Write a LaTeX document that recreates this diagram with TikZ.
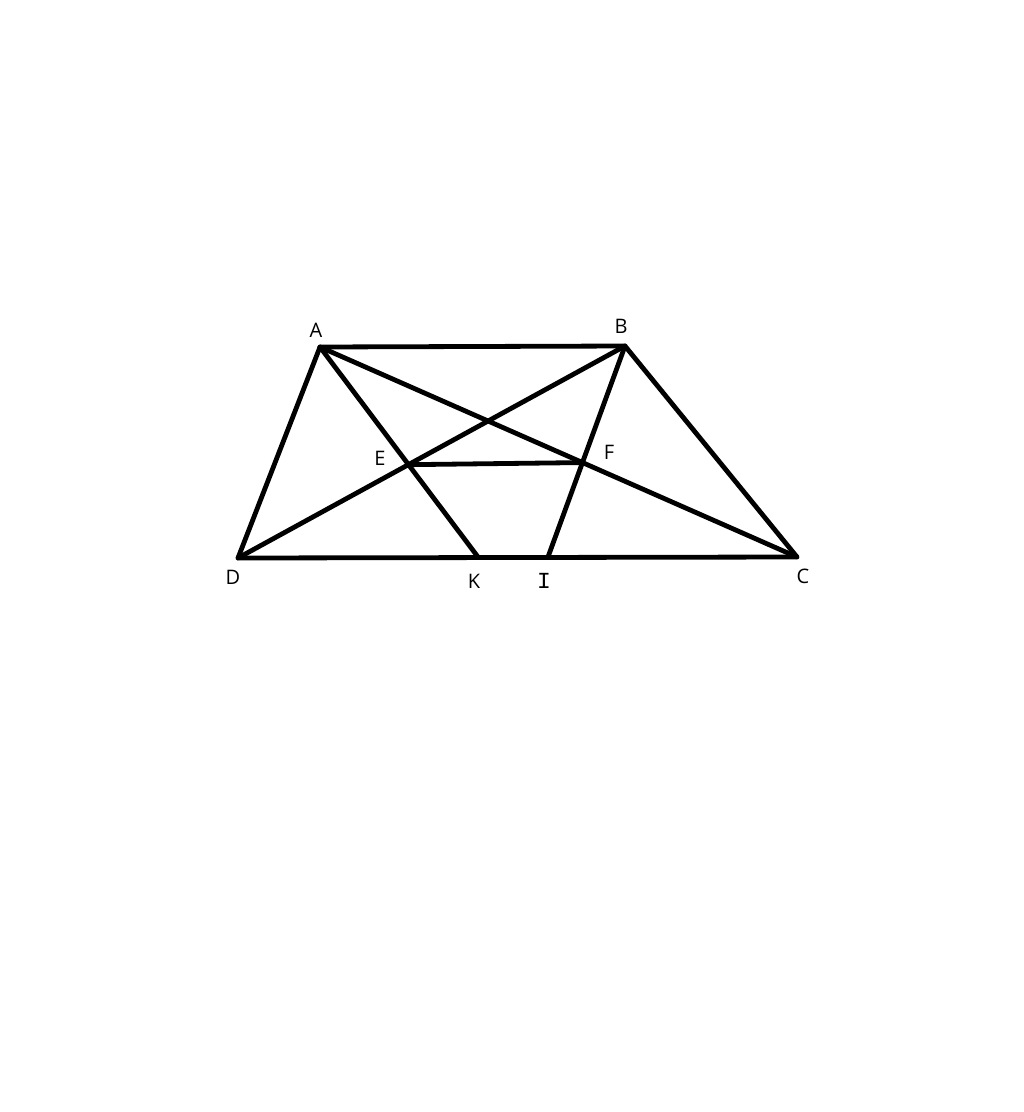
\documentclass[tikz,border=0pt]{standalone}
\usepackage{fontspec}
\setmainfont{Open Sans}
\newfontfamily\serifI{Liberation Mono}
\usetikzlibrary{positioning}

\begin{document}
\begin{tikzpicture}[x=1pt,y=-1pt,
		pt/.style={coordinate},
		edge/.style={line width=4.8pt,line cap=round,line join=round},
		lbl/.style={inner sep=0pt,font=\fontsize{20}{24}\selectfont}]
			\useasboundingbox[fill=white] (0,0) rectangle (1024,1112);

			\node[pt]	(A)	at (320,347)	{};
			\node[pt]	(B)	at (625,346)	{};
			\node[pt]	(C)	at (797,557)	{};
			\node[pt]	(D)	at (238,558)	{};
			\node[pt]	(K)	at (478,557)	{};
			\node[pt]	(I)	at (548,557)	{};
			\coordinate	(E)	at (intersection of A--K and B--D);
			\coordinate	(F)	at (intersection of A--C and B--I);

			\draw[edge] (A) -- (B) -- (C) -- (D) -- cycle;
			\draw[edge] (A) -- (C);
			\draw[edge] (B) -- (D);
			\draw[edge] (A) -- (K);
			\draw[edge] (B) -- (I);
			\draw[edge] (E) -- (F);

			\node[lbl]	(lA)	at (316,330)	{A};
			\node[lbl]	(lB)	at (621,326)	{B};
			\node[lbl]	(lC)	at (803,576)	{C};
			\node[lbl]	(lD)	at (233,577)	{D};
			\node[lbl]	(lE)	at (380,458)	{E};
			\node[lbl]	(lF)	at (609,452)	{F};
			\node[lbl]	(lK)	at (474,581)	{K};
			\node[lbl,font=\fontsize{23}{27}\serifI]	(lI)	at (544,581)	{I};
		\end{tikzpicture}
\end{document}
